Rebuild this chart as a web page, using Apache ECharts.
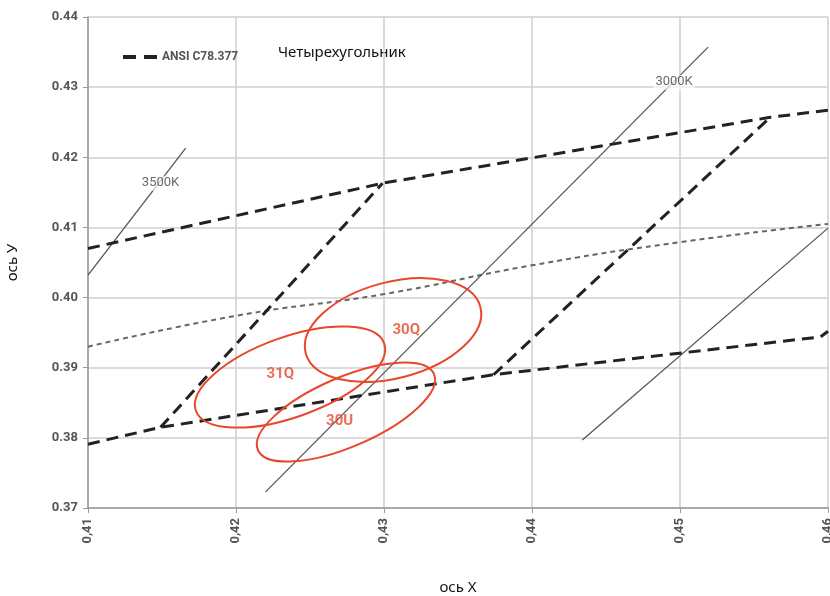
<!DOCTYPE html>
<html>
<head>
<meta charset="utf-8">
<script src="https://cdn.jsdelivr.net/npm/echarts@6/dist/echarts.min.js"></script>
<style>
  html, body { margin: 0; padding: 0; background: #fff; }
  #chart { width: 830px; height: 596px; }
</style>
</head>
<body>
<div id="chart"></div>
<script>
// ANSI C78.377 quadrangle boundaries
const upperBoundary = [[0.41, 0.4070], [0.4299, 0.4163], [0.4561, 0.4257], [0.46, 0.4267]]
const lowerBoundary = [[0.41, 0.3791], [0.4149, 0.3815], [0.4374, 0.3890], [0.4595, 0.3944], [0.46, 0.3952]]
const leftSide = [[0.4149, 0.3815], [0.4299, 0.4163]]
const rightSide = [[0.4374, 0.3890], [0.4561, 0.4257]]

// thin dotted curve
const dottedCurve = [[0.41, 0.3930], [0.42, 0.3974], [0.43, 0.4005], [0.44, 0.4046], [0.45, 0.4079], [0.46, 0.4105]]

// isotherm lines
const iso3500 = [[0.41, 0.4032], [0.4166, 0.4213]]
const iso3000 = [[0.4220, 0.3723], [0.4519, 0.4357]]
const isoRight = [[0.4434, 0.3797], [0.46, 0.4099]]
const isoLabels = [['3500K', 0.4149, 0.4163], ['3000K', 0.4496, 0.4307]]

// bin ellipses: center, end of major axis, end of minor axis
const binNames = ['31Q', '30Q', '30U']
const binCenters = [[0.42365, 0.38867], [0.43061, 0.39537], [0.42743, 0.38368]]
const binMajor = [[0.43001, 0.39348], [0.43651, 0.39867], [0.43338, 0.38909]]
const binMinor = [[0.42456, 0.38330], [0.43153, 0.38880], [0.42836, 0.37915]]
const binLabels = [['31Q', 0.4230, 0.3891], ['30Q', 0.4315, 0.3954], ['30U', 0.4270, 0.3823]]

const xTicks = [0.41, 0.42, 0.43, 0.44, 0.45, 0.46]

const RED = '#e8472b'
const chart = echarts.init(document.getElementById('chart'))

const dashStyle = { color: '#222', width: 3, type: [12, 7] }
const ansi = (data) => ({
  name: 'ANSI C78.377',
  type: 'line',
  data,
  symbol: 'none',
  lineStyle: dashStyle,
  itemStyle: { color: '#222' },
  silent: true,
  z: 3
})
const thin = (data) => ({
  type: 'line',
  data,
  symbol: 'none',
  lineStyle: { color: '#555', width: 1.3 },
  silent: true,
  z: 2
})

const ellipseData = binNames.map((n, i) => [
  binCenters[i][0], binCenters[i][1],
  binMajor[i][0], binMajor[i][1],
  binMinor[i][0], binMinor[i][1]
])

const option = {
  animation: false,
  grid: { left: 88, right: 2, top: 17, bottom: 88, containLabel: false, outerBoundsMode: 'none' },
  legend: {
    data: [{ name: 'ANSI C78.377', icon: 'path://M0,0h13v4h-13z M21,0h13v4h-13z' }],
    left: 118,
    top: 46,
    itemWidth: 34,
    itemHeight: 4,
    itemGap: 8,
    textStyle: { color: '#555', fontSize: 12, fontWeight: 'bold', fontFamily: 'Roboto' }
  },
  graphic: [{
    type: 'text',
    left: 278,
    top: 45,
    style: { text: 'Четырехугольник', fill: '#111', font: '15px "Noto Sans"' }
  }],
  xAxis: {
    type: 'value',
    min: 0.41,
    max: 0.46,
    interval: 0.01,
    name: 'ось Х',
    nameLocation: 'middle',
    nameGap: 72,
    nameTextStyle: { color: '#111', fontSize: 15, fontFamily: 'Noto Sans' },
    axisLine: { lineStyle: { color: '#999', width: 1.5 } },
    axisTick: { show: true, length: 5, lineStyle: { color: '#999' } },
    axisLabel: {
      rotate: 90,
      margin: 10,
      color: '#555',
      fontSize: 13,
      fontWeight: 'bold',
      fontFamily: 'Roboto',
      formatter: v => {
        const t = xTicks.find(k => Math.abs(k - v) < 1e-6)
        return (t !== undefined ? t : v).toFixed(2).replace('.', ',')
      }
    },
    splitLine: { show: true, lineStyle: { color: '#cfcfd4', width: 1.5 } }
  },
  yAxis: {
    type: 'value',
    min: 0.37,
    max: 0.44,
    interval: 0.01,
    name: 'ось У',
    nameLocation: 'middle',
    nameGap: 68,
    nameTextStyle: { color: '#111', fontSize: 15, fontFamily: 'Noto Sans' },
    axisLine: { show: true, lineStyle: { color: '#999', width: 1.5 } },
    axisTick: { show: true, length: 5, lineStyle: { color: '#999' } },
    axisLabel: {
      margin: 10,
      color: '#555',
      fontSize: 13,
      fontWeight: 'bold',
      fontFamily: 'Roboto',
      formatter: v => v.toFixed(2)
    },
    splitLine: { show: true, lineStyle: { color: '#cfcfd4', width: 1.5 } }
  },
  series: [
    ansi(upperBoundary),
    ansi(lowerBoundary),
    ansi(leftSide),
    ansi(rightSide),
    {
      type: 'line',
      data: dottedCurve,
      symbol: 'none',
      smooth: true,
      lineStyle: { color: '#666', width: 2, type: [5, 4] },
      silent: true,
      z: 2
    },
    thin(iso3500),
    thin(iso3000),
    thin(isoRight),
    {
      type: 'custom',
      data: ellipseData,
      silent: true,
      z: 4,
      renderItem: (params, api) => {
        const c = api.coord([api.value(0), api.value(1)])
        const a = api.coord([api.value(2), api.value(3)])
        const b = api.coord([api.value(4), api.value(5)])
        const rx = Math.hypot(a[0] - c[0], a[1] - c[1])
        const ry = Math.hypot(b[0] - c[0], b[1] - c[1])
        return {
          type: 'ellipse',
          x: c[0],
          y: c[1],
          rotation: Math.atan2(-(a[1] - c[1]), a[0] - c[0]),
          shape: { cx: 0, cy: 0, rx, ry },
          style: { fill: 'none', stroke: RED, lineWidth: 2 }
        }
      }
    },
    {
      type: 'scatter',
      data: isoLabels.map(d => ({ name: d[0], value: [d[1], d[2]] })),
      symbolSize: 1,
      itemStyle: { color: 'rgba(0,0,0,0)' },
      silent: true,
      z: 5,
      label: {
        show: true,
        position: 'inside',
        formatter: p => p.name,
        color: '#444',
        fontSize: 13,
        fontFamily: 'Roboto',
        backgroundColor: 'rgba(255,255,255,0.85)',
        padding: [1, 2]
      }
    },
    {
      type: 'scatter',
      data: binLabels.map(d => ({ name: d[0], value: [d[1], d[2]] })),
      symbolSize: 1,
      itemStyle: { color: 'rgba(0,0,0,0)' },
      silent: true,
      z: 5,
      label: {
        show: true,
        position: 'inside',
        formatter: p => p.name,
        color: RED,
        fontSize: 15,
        fontWeight: 'bold',
        fontFamily: 'Roboto'
      }
    }
  ]
}

chart.setOption(option)
</script>
</body>
</html>
